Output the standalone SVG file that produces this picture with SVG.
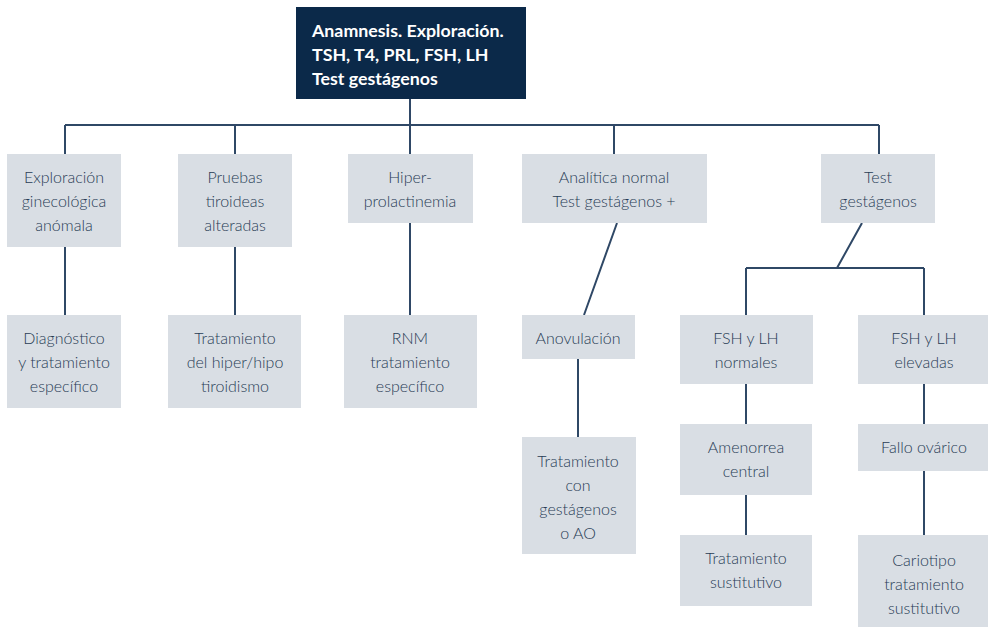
<svg xmlns="http://www.w3.org/2000/svg" width="988" height="627" viewBox="0 0 988 627">
<style>
.box{fill:#d9dee4}
.top{fill:#0b2949}
.t{font-family:Lato,"Liberation Sans",sans-serif;font-weight:300;font-size:16px;fill:#283c55;text-anchor:middle}
.tt{font-family:Lato,"Liberation Sans",sans-serif;font-weight:700;font-size:17.8px;fill:#ffffff}
.c{stroke:#2f4866;stroke-width:2;fill:none}
</style>
<rect width="988" height="627" fill="#ffffff"/>
<g id="connectors">
<path class="c" d="M410 99V154M65 125H879M65 125V154M235 125V154M614 125V154M879 125V154"/>
<path class="c" d="M65 247V315M235 247V315M410 223V315"/>
<path class="c" d="M617 223L584 315M578 359V437"/>
<path class="c" d="M862 223L837 268M746 268H924M746 268V315M924 268V315"/>
<path class="c" d="M746 384V424M746 495V535M924 384V424M924 471V535"/>
</g>
<g id="n0"><rect class="top" x="296" y="7" width="230" height="92"/>
<text class="tt" x="312" y="37">Anamnesis. Exploración.</text>
<text class="tt" x="312" y="61">TSH, T4, PRL, FSH, LH</text>
<text class="tt" x="312" y="85">Test gestágenos</text></g>
<g id="n1"><rect class="box" x="7" y="154" width="114" height="93"/>
<text class="t" x="64" y="183">Exploración</text><text class="t" x="64" y="207">ginecológica</text><text class="t" x="64" y="231">anómala</text></g>
<g id="n2"><rect class="box" x="178" y="154" width="114" height="93"/>
<text class="t" x="235" y="183">Pruebas</text><text class="t" x="235" y="207">tiroideas</text><text class="t" x="235" y="231">alteradas</text></g>
<g id="n3"><rect class="box" x="348" y="154" width="125" height="69"/>
<text class="t" x="410" y="183">Hiper-</text><text class="t" x="410" y="207">prolactinemia</text></g>
<g id="n4"><rect class="box" x="522" y="154" width="185" height="69"/>
<text class="t" x="614" y="183">Analítica normal</text><text class="t" x="614" y="207">Test gestágenos +</text></g>
<g id="n5"><rect class="box" x="821" y="154" width="114" height="69"/>
<text class="t" x="878" y="183">Test</text><text class="t" x="878" y="207">gestágenos</text></g>
<g id="n6"><rect class="box" x="7" y="315" width="114" height="93"/>
<text class="t" x="64" y="344">Diagnóstico</text><text class="t" x="64" y="368">y tratamiento</text><text class="t" x="64" y="392">específico</text></g>
<g id="n7"><rect class="box" x="168" y="315" width="133" height="93"/>
<text class="t" x="235" y="344">Tratamiento</text><text class="t" x="235" y="368">del hiper/hipo</text><text class="t" x="235" y="392">tiroidismo</text></g>
<g id="n8"><rect class="box" x="344" y="315" width="133" height="93"/>
<text class="t" x="410" y="344">RNM</text><text class="t" x="410" y="368">tratamiento</text><text class="t" x="410" y="392">específico</text></g>
<g id="n9"><rect class="box" x="522" y="315" width="113" height="44"/>
<text class="t" x="578" y="344">Anovulación</text></g>
<g id="n10"><rect class="box" x="680" y="315" width="133" height="69"/>
<text class="t" x="746" y="344">FSH y LH</text><text class="t" x="746" y="368">normales</text></g>
<g id="n11"><rect class="box" x="858" y="315" width="131" height="69"/>
<text class="t" x="924" y="344">FSH y LH</text><text class="t" x="924" y="368">elevadas</text></g>
<g id="n12"><rect class="box" x="522" y="437" width="114" height="117"/>
<text class="t" x="578" y="467">Tratamiento</text><text class="t" x="578" y="491">con</text><text class="t" x="578" y="515">gestágenos</text><text class="t" x="578" y="539">o AO</text></g>
<g id="n13"><rect class="box" x="680" y="424" width="132" height="71"/>
<text class="t" x="746" y="453">Amenorrea</text><text class="t" x="746" y="477">central</text></g>
<g id="n14"><rect class="box" x="858" y="424" width="131" height="47"/>
<text class="t" x="924" y="453">Fallo ovárico</text></g>
<g id="n15"><rect class="box" x="680" y="535" width="132" height="71"/>
<text class="t" x="746" y="564">Tratamiento</text><text class="t" x="746" y="588">sustitutivo</text></g>
<g id="n16"><rect class="box" x="858" y="535" width="131" height="92"/>
<text class="t" x="924" y="566">Cariotipo</text><text class="t" x="924" y="590">tratamiento</text><text class="t" x="924" y="614">sustitutivo</text></g>
</svg>
